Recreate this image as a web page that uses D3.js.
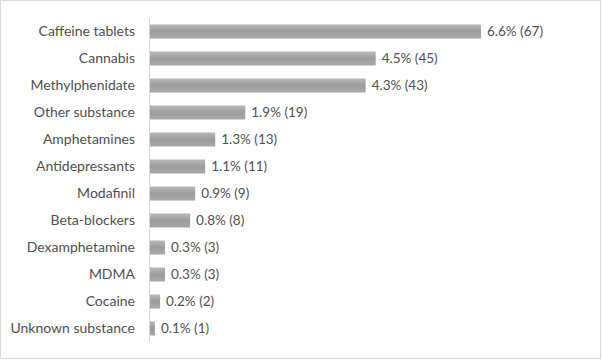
<!DOCTYPE html>
<html><head><meta charset="utf-8">
<script src="https://cdn.jsdelivr.net/npm/d3@7/dist/d3.min.js"></script>
<style>body{margin:0;background:#fff;} svg{display:block;}</style>
</head><body>
<svg id="chart" width="602" height="361"></svg>
<script>
const categories = ["Caffeine tablets","Cannabis","Methylphenidate","Other substance","Amphetamines","Antidepressants","Modafinil","Beta-blockers","Dexamphetamine","MDMA","Cocaine","Unknown substance"];
const percents = [6.6,4.5,4.3,1.9,1.3,1.1,0.9,0.8,0.3,0.3,0.2,0.1];
const counts = [67,45,43,19,13,11,9,8,3,3,2,1];

const svg = d3.select("#chart");
const W = 602, H = 361;
const font = "Lato, 'Open Sans', sans-serif";

svg.append("rect").attr("x",0.5).attr("y",0.5).attr("width",W-2).attr("height",H-3)
  .attr("fill","#fff").attr("stroke","#d9d9d9");

const defs = svg.append("defs");
const grad = defs.append("linearGradient").attr("id","barGrad").attr("x1",0).attr("y1",0).attr("x2",0).attr("y2",1);
grad.append("stop").attr("offset","0%").attr("stop-color","#b8b8b8");
grad.append("stop").attr("offset","50%").attr("stop-color","#9c9c9c");
grad.append("stop").attr("offset","100%").attr("stop-color","#a9a9a9");

const x0 = 150;
const x = d3.scaleLinear().domain([0, 6.6]).range([x0, 481]);
const y = d3.scaleBand().domain(categories).range([18, 342]).paddingInner(0.48).paddingOuter(0.24);

const g = svg.append("g");
g.selectAll("rect.bar").data(categories).join("rect").attr("class","bar")
  .attr("x", x(0)).attr("y", d => y(d))
  .attr("width", (d,i) => x(percents[i]) - x(0))
  .attr("height", y.bandwidth())
  .attr("fill","url(#barGrad)");

g.append("line").attr("x1",149.5).attr("x2",149.5).attr("y1",18).attr("y2",342)
  .attr("stroke","#d9d9d9").attr("stroke-width",1);

g.selectAll("text.cat").data(categories).join("text").attr("class","cat")
  .attr("x", 135).attr("y", d => y(d) + y.bandwidth()/2)
  .attr("dy","0.35em").attr("text-anchor","end")
  .attr("font-family", font).attr("font-size", 14).attr("fill","#505050")
  .text(d => d);

g.selectAll("text.val").data(categories).join("text").attr("class","val")
  .attr("x", (d,i) => x(percents[i]) + 6).attr("y", d => y(d) + y.bandwidth()/2)
  .attr("dy","0.35em")
  .attr("font-family", font).attr("font-size", 13.5).attr("fill","#505050")
  .text((d,i) => percents[i].toFixed(1) + "% (" + counts[i] + ")");
</script>
</body></html>
